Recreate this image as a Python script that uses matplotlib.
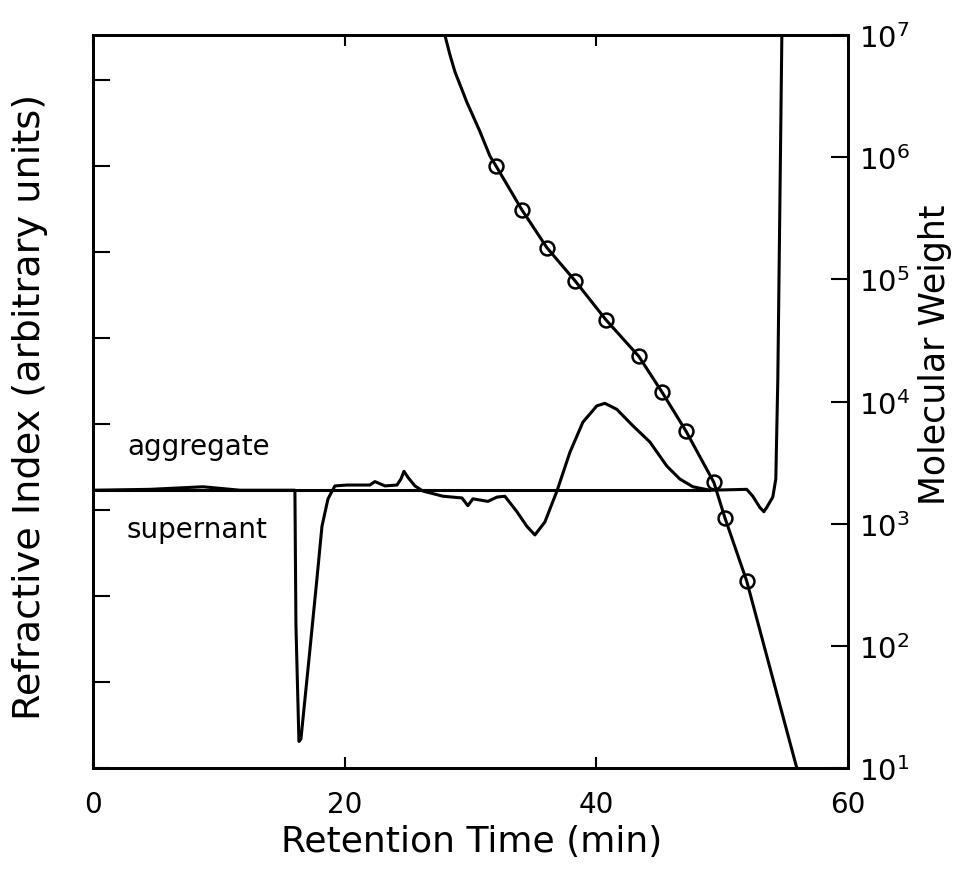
import numpy as np
import matplotlib.pyplot as plt
from matplotlib.ticker import FixedLocator, NullFormatter, LogLocator, NullLocator

plt.rcParams['font.family'] = ['DejaVu Sans']
plt.rcParams['mathtext.default'] = 'regular'

# refractive index trace (supernant run), arbitrary units
ri_time = [0.00, 4.53, 8.74, 11.68, 16.05, 16.13, 16.37, 16.53, 17.17, 17.80,
           18.20, 18.68, 19.23, 20.19, 22.01, 22.41, 23.21, 24.16, 24.48, 24.72,
           25.03, 25.59, 26.23, 27.82, 29.33, 29.80, 30.20, 31.39, 32.11, 32.74,
           33.70, 34.49, 35.13, 35.92, 36.88, 37.91, 38.94, 40.05, 40.69, 41.64,
           42.91, 44.27, 45.62, 46.65, 47.69, 49.03, 51.97, 52.45, 53.01, 53.33,
           53.56, 54.04, 54.28, 54.44, 54.80]
ri_value = [3.23, 3.24, 3.27, 3.23, 3.23, 1.67, 0.31, 0.34, 1.27, 2.20,
            2.81, 3.13, 3.28, 3.29, 3.29, 3.33, 3.28, 3.29, 3.36, 3.45,
            3.38, 3.28, 3.22, 3.16, 3.14, 3.05, 3.13, 3.10, 3.15, 3.16,
            2.98, 2.81, 2.71, 2.86, 3.22, 3.67, 4.02, 4.21, 4.24, 4.17,
            3.98, 3.79, 3.51, 3.36, 3.27, 3.23, 3.24, 3.16, 3.03, 2.98,
            3.03, 3.15, 3.36, 4.52, 9.00]

# flat baseline trace (aggregate run)
base_time = [0.0, 49.0]
base_value = [3.23, 3.23]

# calibration curve, log10 of molecular weight
cal_time = [27.97, 28.37, 28.77, 29.72, 30.76, 31.55, 32.03, 34.09, 36.08, 38.31,
            40.77, 43.39, 45.22, 47.13, 49.35, 50.23, 51.97, 55.95]
cal_logmw = [7.00, 6.84, 6.70, 6.45, 6.21, 6.01, 5.93, 5.57, 5.26, 4.99,
             4.67, 4.37, 4.08, 3.76, 3.34, 3.05, 2.53, 1.00]

# standards
std_time = [32.03, 34.09, 36.08, 38.31, 40.77, 43.39, 45.22, 47.13, 49.35, 50.23, 51.97]
std_logmw = [5.93, 5.57, 5.26, 4.99, 4.67, 4.37, 4.08, 3.76, 3.34, 3.05, 2.53]

fig = plt.figure(figsize=(9.59, 8.79), dpi=100)
ax = fig.add_axes([0.097, 0.125, 0.787, 0.834])

ax.plot(base_time, base_value, color='k', lw=2.2)
ax.plot(ri_time, ri_value, color='k', lw=2.2)
ax.set_xlim(0, 60)
ax.set_ylim(0, 8.52)
ax.yaxis.set_major_locator(FixedLocator(range(0, 9)))
ax.yaxis.set_major_formatter(NullFormatter())
ax.set_xticks([0, 20, 40, 60])
ax.tick_params(axis='x', direction='in', length=8, width=1.5, labelsize=20,
               pad=16, top=True)
ax.tick_params(axis='y', direction='in', length=12, width=1.5)
for s in ax.spines.values():
    s.set_linewidth(2)
ax.xaxis.offsetText.set_visible(False)

ax.text(8.4, 3.74, 'aggregate', fontsize=20, ha='center', va='center')
ax.text(8.3, 2.78, 'supernant', fontsize=20, ha='center', va='center')

ax2 = ax.twinx()
ax2.set_yscale('log')
ax2.plot(cal_time, 10 ** np.array(cal_logmw), color='k', lw=2.2)
ax2.plot(std_time, 10 ** np.array(std_logmw), 'o', mfc='none', mec='k',
         mew=1.8, ms=10)
ax2.set_ylim(10, 1e7)
ax2.yaxis.set_major_locator(LogLocator(base=10, numticks=10))
ax2.yaxis.set_minor_locator(NullLocator())
ax2.tick_params(axis='y', direction='in', length=12, width=1.5, labelsize=21, pad=8)
for s in ax2.spines.values():
    s.set_linewidth(2)
ax2.xaxis.offsetText.set_visible(False)

fig.text(0.492, 0.042, 'Retention Time (min)', fontsize=26, ha='center', va='center')
fig.text(0.031, 0.537, 'Refractive Index (arbitrary units)', fontsize=27.5,
         rotation=90, ha='center', va='center')
fig.text(0.975, 0.596, 'Molecular Weight', fontsize=25,
         rotation=90, ha='center', va='center')

fig.savefig('out.png', dpi=100)
